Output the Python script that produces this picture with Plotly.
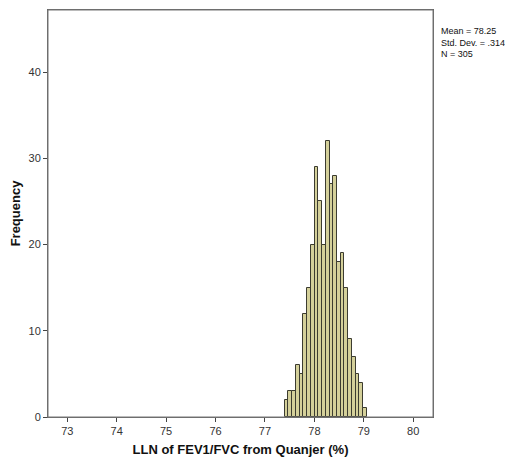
import plotly.graph_objects as go

# Data
bin_start = 77.40
bin_width = 0.0755
counts = [2, 3, 3, 6, 5, 12, 15, 20, 29, 25, 20, 32, 27, 28, 18, 19, 15, 9, 7, 5, 4, 1]
x_ticks = [73, 74, 75, 76, 77, 78, 79, 80]
y_ticks = [0, 10, 20, 30, 40]
stats_text = ["Mean = 78.25", "Std. Dev. = .314", "N = 305"]

centers = [bin_start + bin_width * (i + 0.5) for i in range(len(counts))]

fig = go.Figure()
fig.add_trace(go.Bar(
    x=centers, y=counts, width=[bin_width] * len(counts),
    marker=dict(color="#d4d09a", line=dict(color="#3c3c30", width=1)),
    hoverinfo="x+y",
))

font_family = "Liberation Sans, Arial, sans-serif"
fig.update_layout(
    width=505, height=455,
    margin=dict(l=40, r=80, t=2, b=46),
    paper_bgcolor="white", plot_bgcolor="white",
    showlegend=False, bargap=0,
    font=dict(family=font_family, size=11, color="#333333"),
    xaxis=dict(
        range=[72.61, 80.40], tickvals=x_ticks, ticktext=[str(v) for v in x_ticks],
        ticks="outside", ticklen=4, tickcolor="#444444",
        showline=True, linecolor="#666666", linewidth=1, mirror=True,
        showgrid=False, zeroline=False,
        title=dict(text="<b>LLN of FEV1/FVC from Quanjer (%)</b>",
                   font=dict(size=13, color="#111111"), standoff=8),
        tickfont=dict(size=11, color="#333333"),
    ),
    yaxis=dict(
        range=[0, 47.2], tickvals=y_ticks,
        ticks="outside", ticklen=4, tickcolor="#444444",
        showline=True, linecolor="#666666", linewidth=1, mirror=True,
        showgrid=False, zeroline=False,
        title=dict(text="<b>Frequency</b>", font=dict(size=13, color="#111111"), standoff=10),
        tickfont=dict(size=11, color="#333333"),
    ),
    shapes=[dict(type="rect", xref="paper", yref="paper", x0=0, x1=1, y0=0, y1=1,
                 line=dict(color="#777777", width=1), layer="above")],
)

fig.add_annotation(
    xref="paper", yref="paper", x=1.0, y=1.0, xshift=6, yshift=-14,
    xanchor="left", yanchor="top", align="left", showarrow=False,
    text="<br>".join(stats_text),
    font=dict(size=9, color="#111111", family=font_family),
)

fig.write_html("out.html")
